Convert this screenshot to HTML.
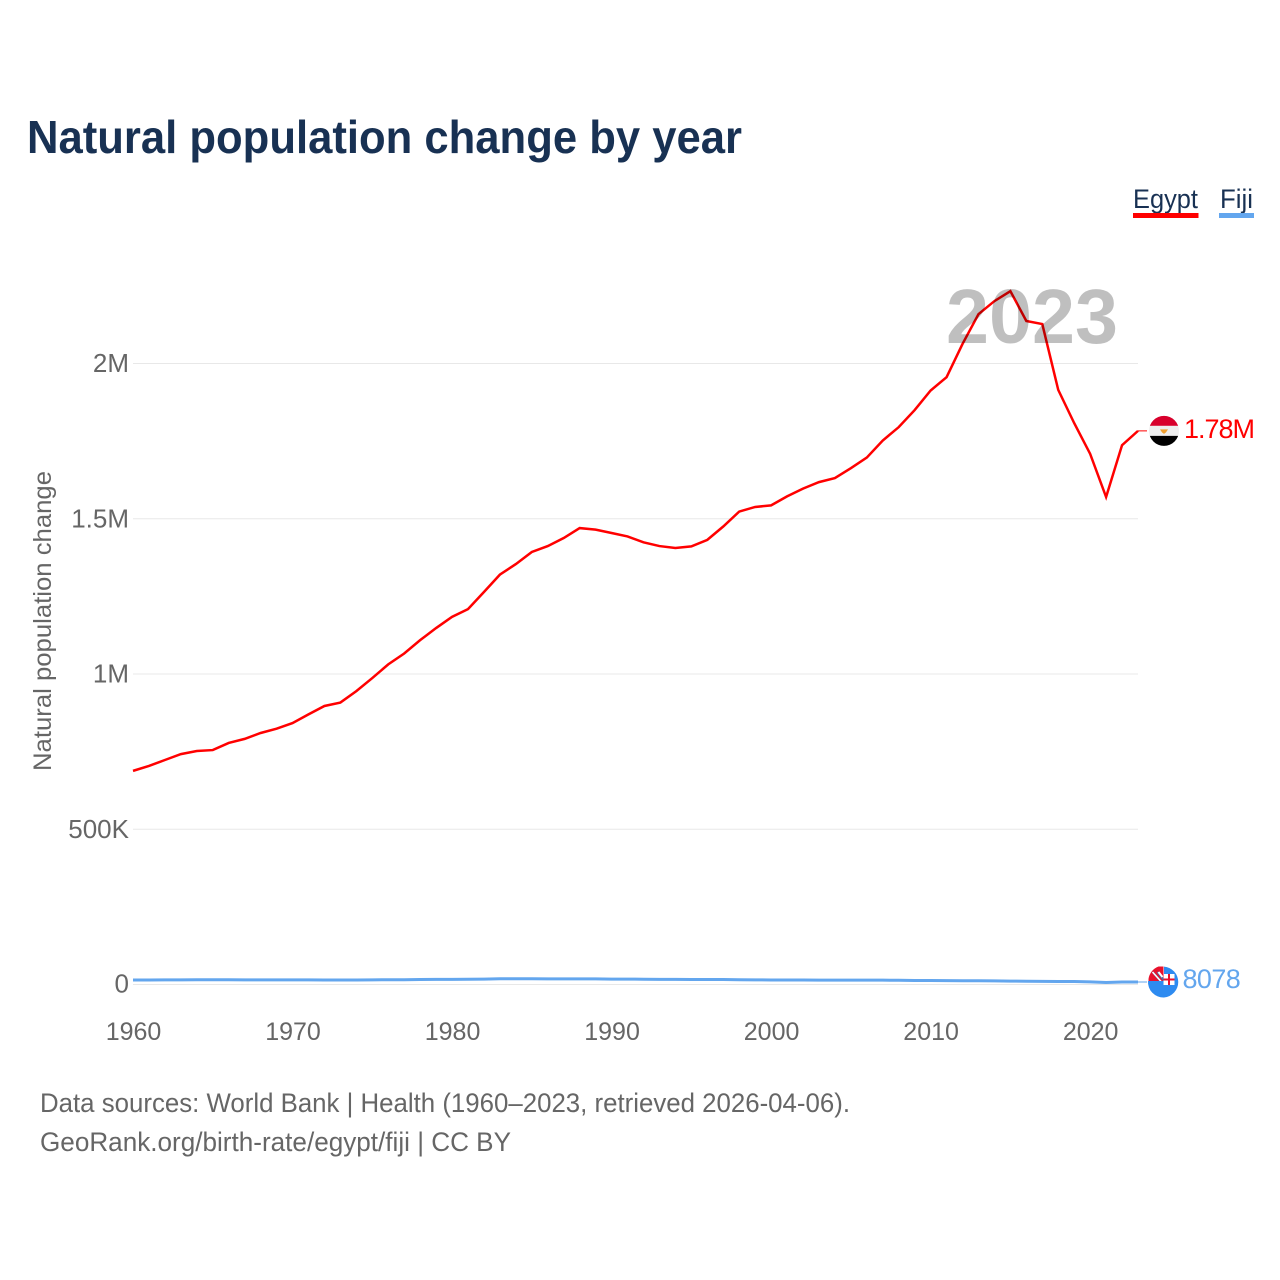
<!DOCTYPE html>
<html lang="en">
<head>
<meta charset="utf-8">
<title>Natural population change by year</title>
<style>
html,body{margin:0;padding:0;background:#fff;}
svg{display:block;font-family:"Liberation Sans",sans-serif;}
</style>
</head>
<body>
<svg id="chart" xmlns="http://www.w3.org/2000/svg" width="1280" height="1280" viewBox="0 0 1280 1280">
  <rect x="0" y="0" width="1280" height="1280" fill="#ffffff"/>
  <text x="27" y="153" font-size="46" font-weight="700" fill="#183153" textLength="715" lengthAdjust="spacingAndGlyphs">Natural population change by year</text>

  <g>
    <text x="1133" y="208" font-size="27" fill="#183153" textLength="65" lengthAdjust="spacingAndGlyphs">Egypt</text>
    <rect x="1133" y="213" width="65.5" height="5" fill="#ff0000"/>
  </g>
  <g>
    <text x="1220" y="208" font-size="27" fill="#183153" textLength="33" lengthAdjust="spacingAndGlyphs">Fiji</text>
    <rect x="1219" y="213" width="35" height="5" fill="#63a6ee"/>
  </g>

  <text transform="translate(51,771) rotate(-90)" font-size="25" fill="#666666" textLength="300" lengthAdjust="spacingAndGlyphs">Natural population change</text>

  <g id="grid"></g>
  <g id="y-ticks"></g>
  <g id="x-ticks"></g>
  <g id="series"></g>

  <text x="946" y="343" font-size="77" font-weight="700" fill="#000000" fill-opacity="0.25" textLength="172" lengthAdjust="spacingAndGlyphs">2023</text>

  <defs>
    <clipPath id="flag-clip-egypt"><circle cx="0" cy="0" r="15"/></clipPath>
  </defs>
  <g id="flag-egypt">
    <g clip-path="url(#flag-clip-egypt)">
      <rect x="-15" y="-16" width="30" height="11" fill="#d8002c"/>
      <rect x="-15" y="-5" width="30" height="10" fill="#eeeeee"/>
      <rect x="-15" y="5" width="30" height="11" fill="#000000"/>
      <path d="M-4-1.5h8l-2 3-2 1.5-2-1.5z" fill="#f0a030"/>
    </g>
  </g>
  <g id="flag-fiji">
    <path d="M-15 -2A15.5 15.5 0 0 1 -5 -14.5H0V0H-15Z" fill="#e8112d" transform="translate(0,-1)"/>
    <path d="M-6 -10L1 -1M-11 -10L-3 -1" stroke="#4a6fa5" stroke-width="2" fill="none"/>
    <path d="M-11 -10L-2 0" stroke="#ffffff" stroke-width="1.5" fill="none"/>
    <path d="M-15.5 -1H0.5V-15.4A15.5 15.5 0 0 1 0.5 15.5A15.5 15.5 0 0 1 -15.5 -1Z" fill="#2e8bf0"/>
    <path d="M-5 -10L-1 -5" stroke="#ffffff" stroke-width="2" fill="none"/>
    <rect x="0" y="-8" width="11" height="11" fill="#ffffff"/>
    <rect x="4.5" y="-8" width="2" height="11" fill="#e8112d"/>
    <rect x="0" y="-3.5" width="11" height="2" fill="#e8112d"/>
  </g>

  <text x="40" y="1112" font-size="27" fill="#666666" textLength="810" lengthAdjust="spacingAndGlyphs">Data sources: World Bank | Health (1960–2023, retrieved 2026-04-06).</text>
  <text x="40" y="1151" font-size="27" fill="#666666" textLength="471" lengthAdjust="spacingAndGlyphs">GeoRank.org/birth-rate/egypt/fiji | CC BY</text>
</svg>
<script>
var years = [1960,1961,1962,1963,1964,1965,1966,1967,1968,1969,1970,1971,1972,1973,1974,1975,1976,1977,1978,1979,1980,1981,1982,1983,1984,1985,1986,1987,1988,1989,1990,1991,1992,1993,1994,1995,1996,1997,1998,1999,2000,2001,2002,2003,2004,2005,2006,2007,2008,2009,2010,2011,2012,2013,2014,2015,2016,2017,2018,2019,2020,2021,2022,2023];
var egyptValues = [688000,704000,723000,742000,752000,755000,778000,791000,810000,824000,842000,870000,897000,908000,945000,987000,1031000,1066000,1109000,1148000,1184000,1209000,1264000,1320000,1354000,1393000,1412000,1438000,1470000,1465000,1454000,1443000,1424000,1412000,1406000,1411000,1432000,1475000,1523000,1538000,1543000,1572000,1597000,1618000,1631000,1663000,1697000,1752000,1795000,1850000,1913000,1956000,2063000,2159000,2201000,2233000,2137000,2127000,1915000,1808000,1709000,1570000,1737000,1783000];
var fijiValues = [14500,14500,15000,15000,15500,15500,15500,15000,15000,15000,15000,15000,14500,14500,14500,15000,15500,15500,16000,16500,16500,17000,17500,18500,18500,18500,18000,18000,18000,18000,17500,17500,17000,16500,16500,16000,16000,16000,15500,15000,14500,14500,14500,14000,14000,14000,14000,14000,13500,13000,13000,12500,12000,12000,11500,11000,10500,10000,9500,9500,8500,6500,8000,8078];
var yTickValues = [0,500000,1000000,1500000,2000000];
var yTickLabels = ["0","500K","1M","1.5M","2M"];
var xTickValues = [1960,1970,1980,1990,2000,2010,2020];

var NS = 'http://www.w3.org/2000/svg';
function xScale(year){ return 133 + (year - 1960) * (1138 - 133) / (2023 - 1960); }
function yScale(value){ return 984.5 - value * (984.5 - 363.5) / 2000000; }
function formatValue(v){
  if (v >= 1000000) return (v / 1000000).toFixed(2) + 'M';
  return String(v);
}
function svgEl(tag, parent){
  var el = document.createElementNS(NS, tag);
  document.getElementById(parent).appendChild(el);
  return el;
}
function pathFor(values){
  var d = '';
  for (var i = 0; i < values.length; i++) {
    d += (i ? 'L' : 'M') + xScale(years[i]).toFixed(2) + ' ' + yScale(values[i]).toFixed(2);
  }
  return d;
}

yTickValues.forEach(function(v, i){
  var line = svgEl('line', 'grid');
  
  
  line.setAttribute('x1', 133);
  line.setAttribute('x2', 1138);
  line.setAttribute('y1', yScale(v));
  line.setAttribute('y2', yScale(v));
  line.setAttribute('stroke', '#e8e8e8');
  line.setAttribute('stroke-width', 1);
  var t = svgEl('text', 'y-ticks');
  
  
  t.setAttribute('x', 129);
  t.setAttribute('y', yScale(v) + (v === 0 ? 8 : 8.5));
  t.setAttribute('text-anchor', 'end');
  t.setAttribute('font-size', '26');
  t.setAttribute('fill', '#666666');
  t.textContent = yTickLabels[i];
});

xTickValues.forEach(function(y){
  var t = svgEl('text', 'x-ticks');
  
  
  t.setAttribute('x', xScale(y) + 0.5);
  t.setAttribute('y', 1040);
  t.setAttribute('text-anchor', 'middle');
  t.setAttribute('font-size', '25');
  t.setAttribute('fill', '#666666');
  t.textContent = String(y);
});

var fijiLine = svgEl('path', 'series');


fijiLine.setAttribute('d', pathFor(fijiValues));
fijiLine.setAttribute('fill', 'none');
fijiLine.setAttribute('stroke', '#63a6ee');
fijiLine.setAttribute('stroke-width', 3);

var egyptLine = svgEl('path', 'series');


egyptLine.setAttribute('d', pathFor(egyptValues));
egyptLine.setAttribute('fill', 'none');
egyptLine.setAttribute('stroke', '#ff0000');
egyptLine.setAttribute('stroke-width', 2.5);
egyptLine.setAttribute('stroke-linejoin', 'miter');

var egyptLast = egyptValues[egyptValues.length - 1];
var fijiLast = fijiValues[fijiValues.length - 1];

var egyptConnector = svgEl('line', 'series');


egyptConnector.setAttribute('x1', 1138);
egyptConnector.setAttribute('x2', 1147);
egyptConnector.setAttribute('y1', yScale(egyptLast));
egyptConnector.setAttribute('y2', yScale(egyptLast));
egyptConnector.setAttribute('stroke', '#ff0000');
egyptConnector.setAttribute('stroke-width', 1);

var fijiConnector = svgEl('line', 'series');


fijiConnector.setAttribute('x1', 1138);
fijiConnector.setAttribute('x2', 1147);
fijiConnector.setAttribute('y1', yScale(fijiLast));
fijiConnector.setAttribute('y2', yScale(fijiLast));
fijiConnector.setAttribute('stroke', '#63a6ee');
fijiConnector.setAttribute('stroke-width', 1);

var egyptLabel = svgEl('text', 'series');


egyptLabel.setAttribute('x', 1184);
egyptLabel.setAttribute('y', yScale(egyptLast) + 7);
egyptLabel.setAttribute('font-size', '27');
egyptLabel.setAttribute('letter-spacing', '-1');
egyptLabel.setAttribute('fill', '#ff0000');
egyptLabel.textContent = formatValue(egyptLast);

var fijiLabel = svgEl('text', 'series');


fijiLabel.setAttribute('x', 1182.5);
fijiLabel.setAttribute('y', yScale(fijiLast) + 6);
fijiLabel.setAttribute('font-size', '27');
fijiLabel.setAttribute('letter-spacing', '-0.6');
fijiLabel.setAttribute('fill', '#63a6ee');
fijiLabel.textContent = formatValue(fijiLast);

document.getElementById('flag-egypt').setAttribute('transform', 'translate(1164,' + yScale(egyptLast) + ')');
document.getElementById('flag-fiji').setAttribute('transform', 'translate(1163.5,' + yScale(fijiLast) + ')');
</script>
</body>
</html>
